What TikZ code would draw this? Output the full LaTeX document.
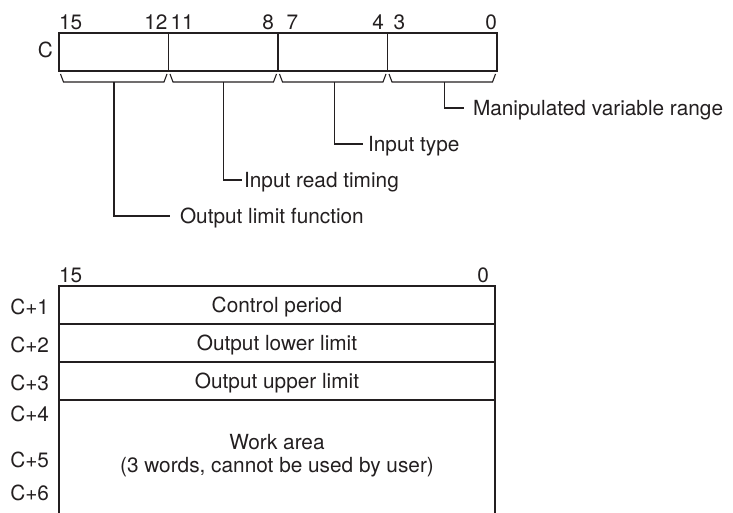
\documentclass[tikz,border=0pt]{standalone}
\usepackage{fontspec}
\setmainfont{TeX Gyre Heros}
\definecolor{ink}{HTML}{231F20}
\begin{document}
\begin{tikzpicture}[x=1pt,y=-1pt,
  every node/.style={inner sep=0pt,outer sep=0pt,text=ink,font=\fontsize{20.8}{23}\selectfont},
  seg/.style={draw=ink,line width=1.5pt,minimum width=109.5pt,minimum height=38pt,anchor=north west},
  rowbox/.style={draw=ink,line width=1.5pt,minimum width=436pt,minimum height=38pt,anchor=north west},
  lbl/.style={anchor=base west},
  conn/.style={draw=ink,line width=1.1pt},
  brk/.style={draw=ink,line width=1.1pt,line join=miter}]
\useasboundingbox (0,0) rectangle (733,513);

% ---------- top register C ----------
\node[seg] (s1) at (59,33) {};
\node[seg] (s2) at (168.5,33) {};
\node[seg] (s3) at (278,33) {};
\node[seg] (s4) at (387.5,33) {};
\node[anchor=base east] (lc) at (53,58) {C};

% bit numbers
\node[anchor=base west] (n15) at (59,30) {15};
\node[anchor=base east] (n12) at (167.5,30) {12};
\node[anchor=base west] (n11) at (170.5,30) {11};
\node[anchor=base east] (n8) at (274,30) {8};
\node[anchor=base west] (n7) at (286.5,30) {7};
\node[anchor=base east] (n4) at (384,30) {4};
\node[anchor=base west] (n3) at (393.5,30) {3};
\node[anchor=base east] (n0) at (497,30) {0};

% brackets under each field
\foreach \a/\b in {59/168.5,168.5/278,278/387.5,387.5/497}{
  \draw[brk] (\a+1.5,74) -- (\a+4.5,82) -- (\b-4.5,82) -- (\b-1.5,74);
}
\coordinate (b1) at (114,82);
\coordinate (b2) at (223.5,82);
\coordinate (b3) at (334.5,82);
\coordinate (b4) at (444.5,82);

% label ends
\coordinate (e4) at (464,108);
\coordinate (e3) at (363,144);
\coordinate (e2) at (242,180);
\coordinate (e1) at (170,216);

\node[lbl] (t4) at (473,115.5) {Manipulated variable range};
\node[lbl] (t3) at (368,151.5) {Input type};
\node[lbl] (t2) at (244,187.5) {Input read timing};
\node[lbl] (t1) at (180,223.5) {Output limit function};

\draw[conn] (b4) |- (e4);
\draw[conn] (b3) |- (e3);
\draw[conn] (b2) |- (e2);
\draw[conn] (b1) |- (e1);

% ---------- bottom registers ----------
\node[anchor=base west] (m15) at (59,282) {15};
\node[anchor=base east] (m0) at (489,282) {0};

\node[rowbox] (r1) at (59,286) {};
\node[rowbox] (r2) at (59,324) {};
\node[rowbox] (r3) at (59,362) {};
\node[anchor=north west,minimum width=436pt,minimum height=113pt] (wa) at (59,400) {};
\draw[draw=ink,line width=1.5pt] (wa.north west) -- (wa.south west);
\draw[draw=ink,line width=1.5pt] (wa.north east) -- (wa.south east);

\node[anchor=base] (tr1) at (277,312.5) {Control period};
\node[anchor=base] (tr2) at (277,350.5) {Output lower limit};
\node[anchor=base] (tr3) at (277,388.5) {Output upper limit};
\node[anchor=base] (tw1) at (277,449.5) {Work area};
\node[anchor=base] (tw2) at (277,472.5) {(3 words, cannot be used by user)};

\node[anchor=base east] (c1) at (49,314.5) {C+1};
\node[anchor=base east] (c2) at (49,352.5) {C+2};
\node[anchor=base east] (c3) at (49,390.5) {C+3};
\node[anchor=base east] (c4) at (49,421.5) {C+4};
\node[anchor=base east] (c5) at (49,467.5) {C+5};
\node[anchor=base east] (c6) at (49,500.5) {C+6};
\end{tikzpicture}
\end{document}
